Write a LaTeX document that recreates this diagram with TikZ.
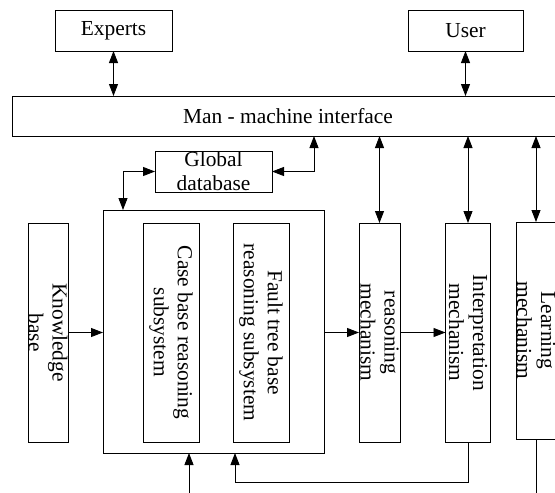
\documentclass[tikz,border=0pt]{standalone}
\usepackage{fontspec}
\setmainfont{Liberation Serif}
\usetikzlibrary{positioning,calc,arrows.meta}

\begin{document}
\begin{tikzpicture}[x=1pt,y=-1pt,line width=0.9pt,
    every node/.style={font=\fontsize{21.4}{24}\selectfont},
    box/.style={draw,inner sep=0pt,outer sep=0pt},
    vtext/.style={rotate=-90,align=center,inner sep=0pt},
    arr/.style={-{Triangle[length=12pt,width=9pt]}},
    darr/.style={{Triangle[length=12pt,width=9pt]}-{Triangle[length=12pt,width=9pt]}}]
    \path[use as bounding box,clip] (0,0) rectangle (555,493);

    % top row
    \node[box,minimum width=117pt,minimum height=41pt] (experts) at (113.5,30.5) {Experts};
    \node[box,minimum width=115pt,minimum height=41pt] (user) at (465.5,30.5) {User};
    \node[box,minimum width=552pt,minimum height=40pt] (hmi) at (288,116) {Man - machine interface};
    \node[box,minimum width=117pt,minimum height=41pt,align=center] (gdb) at (213.5,171.5) {Global\\database};

    % middle row
    \node[box,minimum width=221pt,minimum height=243pt] (big) at (213.5,331.5) {};
    \node[box,minimum width=40pt,minimum height=219pt,label={[vtext]center:Knowledge\\base}] (kb) at (48,332.5) {};
    \node[box,minimum width=56pt,minimum height=219pt,label={[vtext]center:Case base reasoning\\subsystem}] (cbr) at (171,332.5) {};
    \node[box,minimum width=56pt,minimum height=219pt,label={[vtext]center:Fault tree base\\reasoning subsystem}] (ftr) at (261,332.5) {};
    \node[box,minimum width=41pt,minimum height=219pt,label={[vtext]center:reasoning\\mechanism}] (rm) at (379.5,332.5) {};
    \node[box,minimum width=45pt,minimum height=219pt,label={[vtext]center:Interpretation\\mechanism}] (im) at (468,332.5) {};
    \node[box,minimum width=40pt,minimum height=217pt,label={[vtext]center:Learning\\mechanism}] (lm) at (536,330.5) {};
    \coordinate (cin) at (189,500);

    % connectors
    \draw[darr] (experts.south) -- (experts.south |- hmi.north);
    \draw[darr] (user.south) -- (user.south |- hmi.north);
    \draw[darr] (gdb.east) -| ([xshift=26pt]hmi.south);
    \draw[darr] (gdb.west) -| ([xshift=20pt]big.north west);
    \draw[darr] (hmi.south -| rm.north) -- (rm.north);
    \draw[darr] (hmi.south -| im.north) -- (im.north);
    \draw[darr] (hmi.south -| lm.north) -- (lm.north);
    \draw[arr] (kb.east) -- (kb.east -| big.west);
    \draw[arr] (big.east |- rm.west) -- (rm.west);
    \draw[arr] (rm.east) -- (im.west);
    \draw[arr] (im.south) -- ++(0,40) -| ([xshift=21.5pt]big.south);
    \draw[arr] (cin) -- (cin |- big.south);
    \draw (lm.south) -- ++(0,60);
\end{tikzpicture}
\end{document}
